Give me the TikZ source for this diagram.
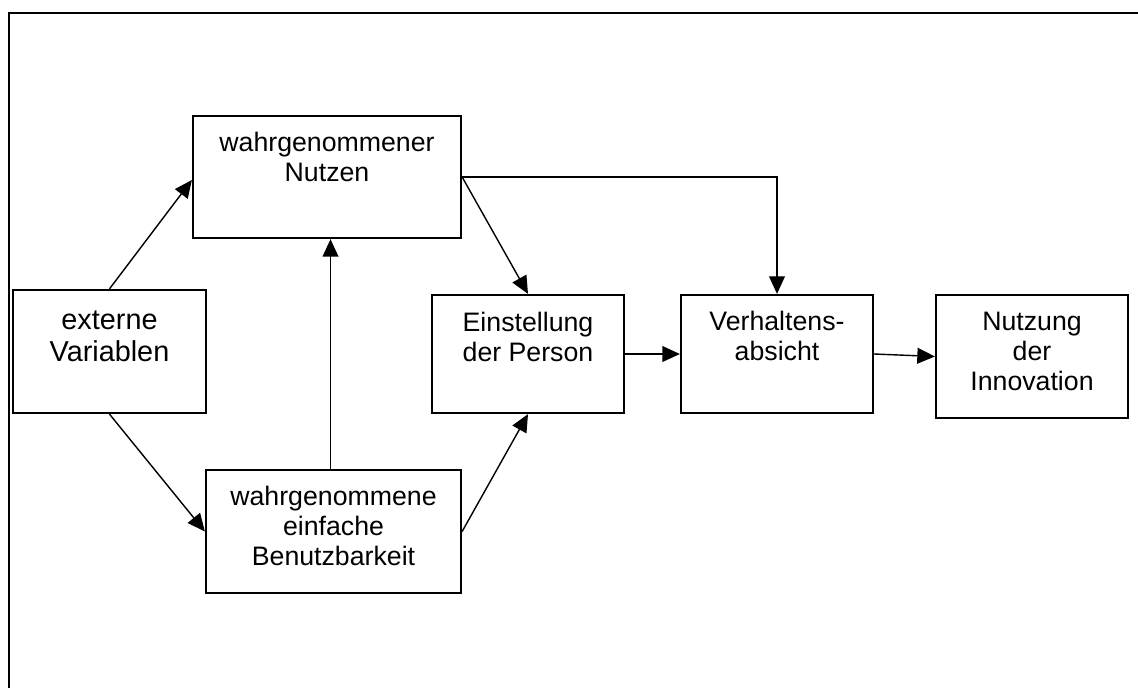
\documentclass[tikz,border=0pt]{standalone}
\usepackage{fontspec}
\setmainfont{Liberation Sans}
\usetikzlibrary{arrows.meta}
\begin{document}
\begin{tikzpicture}[x=0.02cm,y=-0.02cm,
  box/.style={draw, line width=1.3pt, inner sep=0pt, rectangle},
  lbl/.style={anchor=north, inner sep=0pt, align=center, font=\fontsize{15.2}{17}\selectfont},
  arr/.style={line width=0.8pt, -{Triangle[length=10pt,width=9pt]}},
  frame/.style={line width=1.3pt}]
\useasboundingbox (0,0) rectangle (1138,688);
\coordinate (fb) at (9,690);
\coordinate (ft) at (9,13);
\coordinate (fr) at (1140,13);
\draw[frame] (fb) -- (ft) -- (fr);

\node[box, minimum width=3.86cm, minimum height=2.46cm] (e) at (109.5,351.5) {};
\node[box, minimum width=5.36cm, minimum height=2.44cm] (n) at (327,177) {};
\node[box, minimum width=5.10cm, minimum height=2.46cm] (b) at (333.5,531.5) {};
\node[box, minimum width=3.84cm, minimum height=2.36cm] (s) at (528,354) {};
\node[box, minimum width=3.84cm, minimum height=2.36cm] (v) at (777,354) {};
\node[box, minimum width=3.84cm, minimum height=2.46cm] (u) at (1032,356.5) {};

\node[lbl, font=\fontsize{16.4}{18}\selectfont] (te) at ([yshift=-0.44cm]e.north) {externe\\Variablen};
\node[lbl] (tn) at ([yshift=-0.34cm]n.north) {wahrgenommener\\Nutzen};
\node[lbl] (tb) at ([yshift=-0.34cm]b.north) {wahrgenommene\\einfache\\Benutzbarkeit};
\node[lbl] (ts) at ([yshift=-0.36cm]s.north) {Einstellung\\der Person};
\node[lbl] (tv) at ([yshift=-0.34cm]v.north) {Verhaltens-\\absicht};
\node[lbl] (tu) at ([yshift=-0.36cm]u.north) {Nutzung\\der\\Innovation};

\draw[arr] (e.north) -- ([yshift=-0.06cm]n.west);
\draw[arr] (e.south) -- (b.west);
\draw[arr] ([xshift=-0.06cm]b.north) -- ([xshift=-0.06cm]b.north |- n.south);
\draw[arr] (n.east) -- (s.north);
\draw[arr] (n.east) -| (v.north);
\draw[arr] (b.east) -- (s.south);
\draw[arr] (s.east) -- (v.west);
\draw[arr] (v.east) -- (u.west);
\end{tikzpicture}
\end{document}
